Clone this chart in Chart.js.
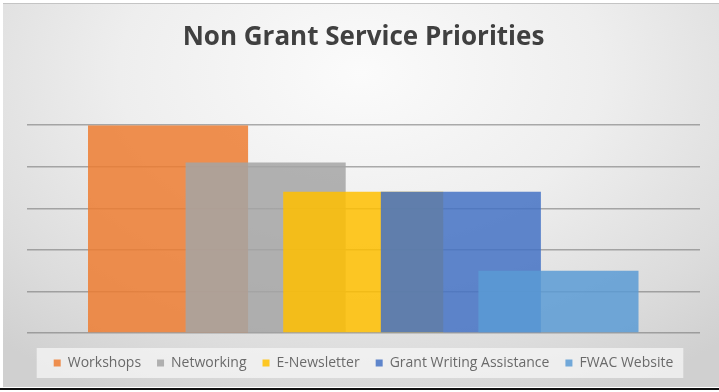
<!DOCTYPE html>
<html>
<head>
<meta charset="utf-8">
<title>Non Grant Service Priorities</title>
<script src="https://cdn.jsdelivr.net/npm/chart.js@4.4.1/dist/chart.umd.min.js"></script>
<style>
    html, body { margin: 0; padding: 0; background: #ffffff; }
    body { width: 719px; height: 392px; position: relative; overflow: hidden; }
    #panel {
        position: absolute; left: 3px; top: 3px; width: 716px; height: 383px;
        border-top: 1px solid #c4c4c4;
        background: radial-gradient(ellipse 75% 95% at 50% 18%, #fbfbfb 0%, #eeeeee 45%, #dcdcdc 80%, #d0d0d0 100%);
    }
    #baseLine { position: absolute; left: 0; top: 388px; width: 719px; height: 2px; background: #111111; }
</style>
</head>
<body>
<div id="panel"><canvas id="barChart" width="716" height="382"></canvas></div>
<div id="baseLine"></div>
<script>
// Servicios y valores de prioridad
const categories = ['Workshops', 'Networking', 'E-Newsletter', 'Grant Writing Assistance', 'FWAC Website'];
const priorityValues = [5, 4.1, 3.4, 3.4, 1.5];
const yTicks = [0, 1, 2, 3, 4, 5];

const barColors = [
    'rgba(237, 125, 49, 0.85)',
    'rgba(165, 165, 165, 0.85)',
    'rgba(255, 192, 0, 0.85)',
    'rgba(68, 114, 196, 0.85)',
    'rgba(91, 155, 213, 0.85)'
];

// Cada servicio es su propia serie, colocada en x = 1..5 sobre un eje lineal
const datasets = categories.map((name, i) => ({
    label: name,
    data: [{ x: i + 1, y: priorityValues[i] }],
    backgroundColor: barColors[i],
    borderWidth: 0,
    order: categories.length - i   // la primera serie queda debajo
}));

// Fondo claro detrás de la leyenda
const legendPanel = {
    id: 'legendPanel',
    beforeDraw(chart) {
        const boxes = chart.legend && chart.legend.legendHitBoxes;
        if (!boxes || !boxes.length) return;
        const left = Math.min(...boxes.map(b => b.left)) - 17;
        const right = Math.max(...boxes.map(b => b.left + b.width)) + 10;
        const mid = boxes[0].top + boxes[0].height / 2;
        const ctx = chart.ctx;
        ctx.save();
        ctx.fillStyle = 'rgba(245, 245, 245, 0.75)';
        ctx.fillRect(left, mid - 15, right - left, 30);
        ctx.restore();
    }
};

function drawChart() {
    const ctx = document.getElementById('barChart').getContext('2d');
    new Chart(ctx, {
        type: 'bar',
        data: { datasets: datasets },
        options: {
            responsive: false,
            animation: false,
            layout: { padding: { left: 24, right: 19, top: 0, bottom: 6 } },
            datasets: {
                bar: {
                    grouped: false,
                    categoryPercentage: 1,
                    barPercentage: 1.64
                }
            },
            scales: {
                x: {
                    type: 'linear',
                    offset: false,
                    min: -0.445,
                    max: 6.45,
                    ticks: { display: false },
                    grid: { display: false },
                    border: { display: false },
                    afterBuildTicks: axis => {
                        axis.ticks = categories.map((c, i) => ({ value: i + 1 }));
                    },
                    // deja un hueco entre la base y la leyenda
                    afterFit: axis => { axis.height = 7; }
                },
                y: {
                    min: 0,
                    max: 5,
                    afterBuildTicks: axis => {
                        axis.ticks = yTicks.map(v => ({ value: v }));
                    },
                    ticks: { display: false },
                    border: { display: false },
                    grid: {
                        color: 'rgba(120, 120, 120, 0.6)',
                        lineWidth: 1.5,
                        drawTicks: false
                    }
                }
            },
            plugins: {
                title: {
                    display: true,
                    text: 'Non Grant Service Priorities',
                    color: '#404040',
                    font: { family: 'Open Sans', size: 26, weight: 'bold' },
                    padding: { top: 18, bottom: 72 }
                },
                legend: {
                    position: 'bottom',
                    labels: {
                        color: '#6a6a6a',
                        font: { family: 'Open Sans', size: 14 },
                        boxWidth: 7,
                        boxHeight: 7,
                        padding: 16,
                        sort: (a, b) => a.datasetIndex - b.datasetIndex
                    }
                },
                tooltip: { enabled: false }
            }
        },
        plugins: [legendPanel]
    });
}

document.addEventListener('DOMContentLoaded', drawChart);
</script>
</body>
</html>
